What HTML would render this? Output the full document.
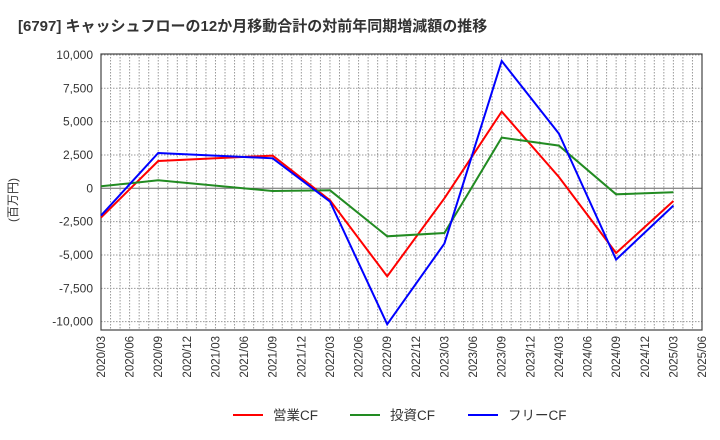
<!DOCTYPE html>
<html><head><meta charset="utf-8"><style>
body{margin:0;background:#fff;}
svg{display:block;font-family:"Liberation Sans","Noto Sans CJK JP",sans-serif;}
</style></head><body>
<svg id="chart" width="720" height="440" viewBox="0 0 720 440">
<text x="18" y="31" font-size="15" font-weight="bold" fill="#333">[6797]  キャッシュフローの12か月移動合計の対前年同期増減額の推移</text>
<text transform="translate(17,200) rotate(-90)" font-size="12" fill="#333" text-anchor="middle">(百万円)</text>
<g id="grid"></g>
<g id="axes"></g>
<g id="series"></g>
<g id="legend"></g>
</svg>
<script>
const xLabels=["2020/03","2020/06","2020/09","2020/12","2021/03","2021/06","2021/09","2021/12","2022/03","2022/06","2022/09","2022/12","2023/03","2023/06","2023/09","2023/12","2024/03","2024/06","2024/09","2024/12","2025/03","2025/06"];
const yTicks=[10000,7500,5000,2500,0,-2500,-5000,-7500,-10000];
const pointDates=["2020/03","2020/09","2021/09","2022/03","2022/09","2023/03","2023/09","2024/03","2024/09","2025/03"];
const operatingCF=[-2200,2050,2450,-900,-6600,-750,5750,850,-4850,-950];
const investingCF=[150,600,-200,-150,-3600,-3350,3800,3200,-450,-300];
const freeCF=[-2050,2650,2250,-1000,-10200,-4150,9550,4100,-5350,-1300];
const seriesNames=["営業CF","投資CF","フリーCF"];
const seriesColors=["#ff0000","#228b22","#0000ff"];

const L=101,R=702,T=54,B=330;
const Y0=188.3,YS=266.7/20000;
const NS="http://www.w3.org/2000/svg";
function el(t,a,p){const e=document.createElementNS(NS,t);for(const k in a)e.setAttribute(k,a[k]);p.appendChild(e);return e;}
function monthIndex(s){const [y,m]=s.split("/").map(Number);return (y-2020)*12+(m-3);}
const totalMonths=monthIndex("2025/06");
function xPos(s){return L+(R-L)*monthIndex(s)/totalMonths;}
function yPos(v){return Y0-v*YS;}

const grid=document.getElementById("grid"),axes=document.getElementById("axes"),ser=document.getElementById("series"),leg=document.getElementById("legend");
for(let m=1;m<totalMonths;m++){
  const x=L+(R-L)*m/totalMonths;
  const g=el("line",{x1:x,x2:x,y1:T,y2:B,stroke:"#999","stroke-dasharray":"1.5,1.5","stroke-width":1},grid);
  
  
}
yTicks.forEach(v=>{
  const y=yPos(v);
  const g=el("line",{x1:L,x2:R,y1:y,y2:y,stroke:v===0?"#666":"#999","stroke-dasharray":v===0?"none":"1.5,1.5","stroke-width":1},grid);
  
  
  const t=el("text",{x:L-8,y:y+4,"font-size":12,fill:"#333","text-anchor":"end"},axes);
  t.textContent=v.toLocaleString("en-US");
  
  
});
const frame=el("rect",{x:L,y:T,width:R-L,height:B-T,fill:"none",stroke:"#444","stroke-width":1.2},axes);


xLabels.forEach(s=>{
  const x=xPos(s);
  const t=el("text",{transform:`translate(${x+4},${336}) rotate(-90)`,"font-size":11.5,fill:"#333","text-anchor":"end"},axes);
  t.textContent=s;
  
  
});
[operatingCF,investingCF,freeCF].forEach((vals,i)=>{
  const pts=vals.map((v,j)=>xPos(pointDates[j]).toFixed(1)+","+yPos(v).toFixed(1)).join(" ");
  const p=el("polyline",{points:pts,fill:"none",stroke:seriesColors[i],"stroke-width":2},ser);
  
  
});
const lx=[233,350,468];
seriesNames.forEach((n,i)=>{
  const g=el("g",{},leg);
  
  
  el("line",{x1:lx[i],x2:lx[i]+30,y1:415,y2:415,stroke:seriesColors[i],"stroke-width":2},g);
  const t=el("text",{x:lx[i]+40,y:420,"font-size":13.5,fill:"#333"},g);
  t.textContent=n;
});
</script>
</body></html>
